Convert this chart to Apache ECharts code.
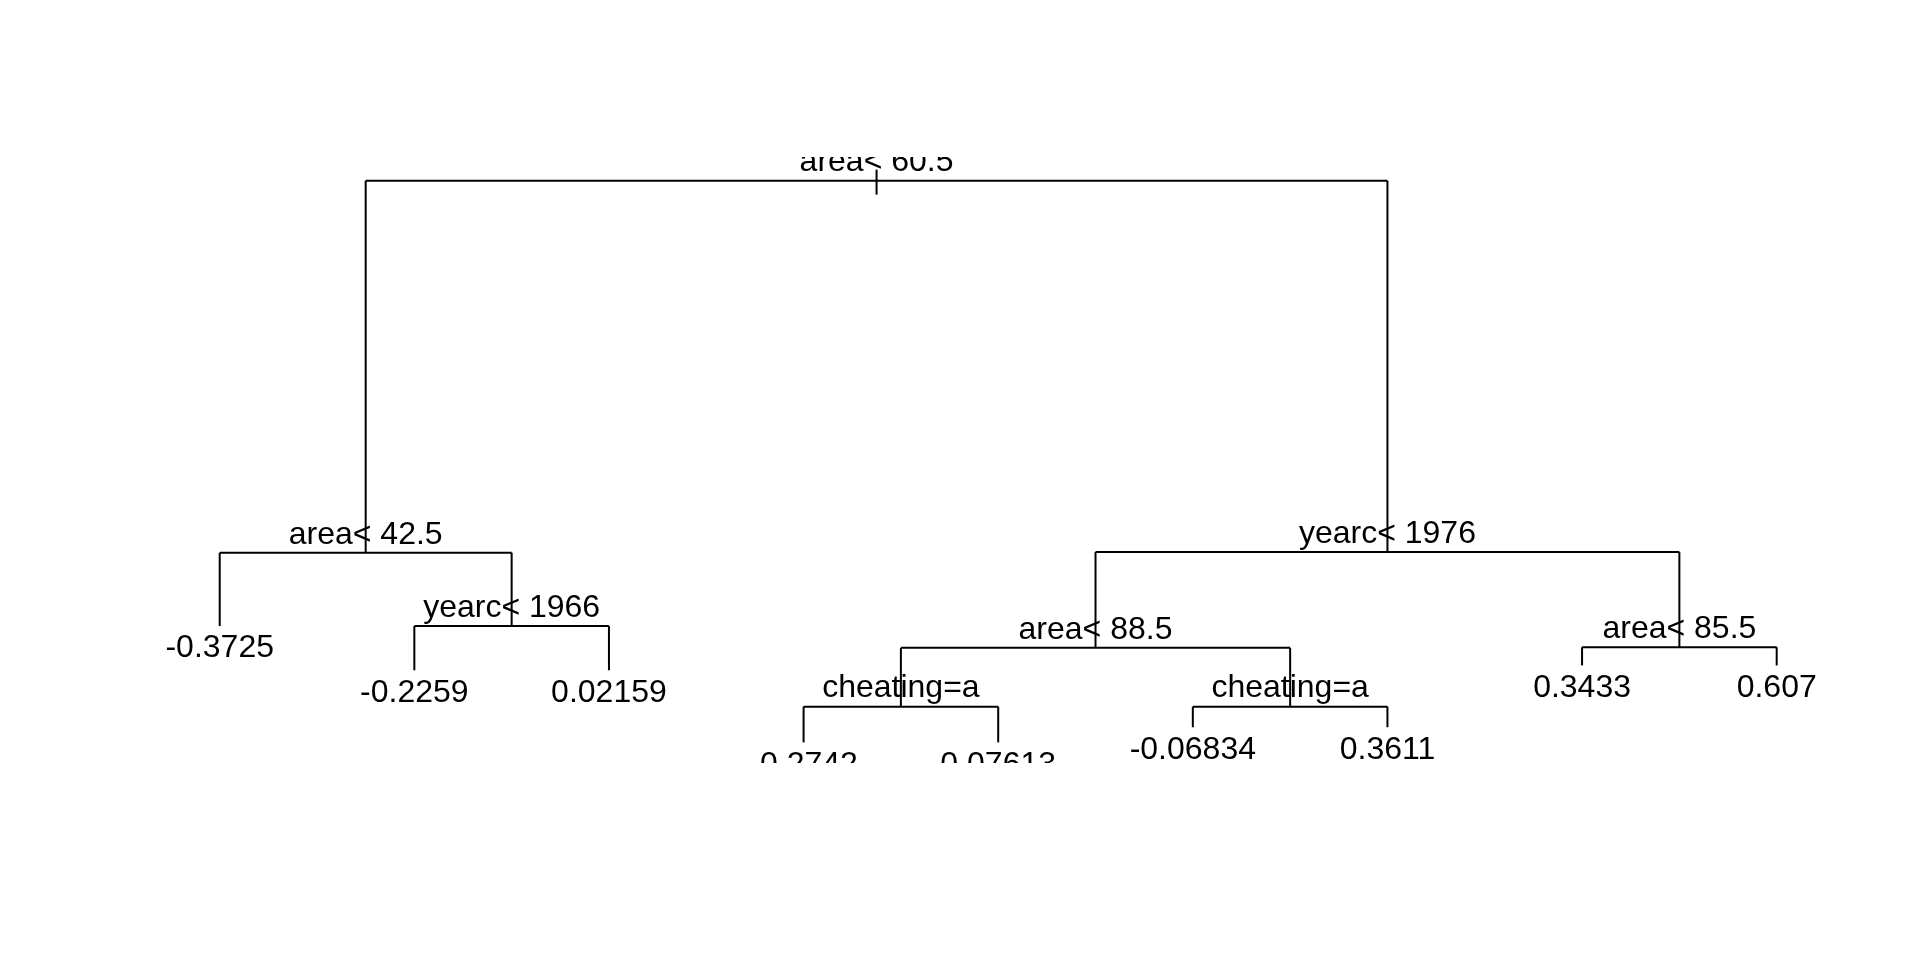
<!DOCTYPE html>
<html>
<head>
<meta charset="utf-8">
<style>
  html, body { margin: 0; padding: 0; background: #ffffff; }
  #chart { width: 1920px; height: 960px; }
</style>
<script src="https://cdn.jsdelivr.net/npm/echarts@6/dist/echarts.min.js"></script>
</head>
<body>
<div id="chart"></div>
<script>
// Regression tree (rpart) nodes, in pre-order
const nodeLabels = ['area< 60.5', 'area< 42.5', '-0.3725', 'yearc< 1966', '-0.2259', '0.02159',
  'yearc< 1976', 'area< 88.5', 'cheating=a', '-0.2742', '0.07613', 'cheating=a', '-0.06834', '0.3611',
  'area< 85.5', '0.3433', '0.607'];
const nodeParent = [-1, 0, 1, 1, 3, 3, 0, 6, 7, 8, 8, 7, 11, 11, 6, 14, 14];
// horizontal position (leaf order units)
const nodeX = [4.375, 1.75, 1, 2.5, 2, 3, 7, 5.5, 4.5, 4, 5, 6.5, 6, 7, 8.5, 8, 9];
// vertical position (relative deviance height)
const nodeY = [0.961, 0.347, 0.226, 0.226, 0.153, 0.153, 0.348, 0.190, 0.093, 0.034, 0.034, 0.093, 0.059, 0.059, 0.191, 0.161, 0.161];

const FONT = '"Liberation Sans", Arial, Helvetica, sans-serif';
const FONT_SIZE = 32;

// children lists derived from the parent array
const children = nodeLabels.map(() => []);
nodeParent.forEach((p, i) => { if (p >= 0) children[p].push(i); });

const data = nodeLabels.map((lab, i) => ({
  value: [nodeX[i], nodeY[i]],
  name: lab
}));

function renderItem(params, api) {
  const i = params.dataIndex;
  const pt = api.coord([nodeX[i], nodeY[i]]);
  const els = [];
  const lineStyle = { stroke: '#000', lineWidth: 2 };
  const p = nodeParent[i];
  if (p >= 0) {
    const top = api.coord([nodeX[i], nodeY[p]]);
    els.push({ type: 'line', shape: { x1: pt[0], y1: top[1], x2: pt[0], y2: pt[1] }, style: lineStyle });
  } else {
    els.push({ type: 'line', shape: { x1: pt[0], y1: pt[1] - 11, x2: pt[0], y2: pt[1] + 14 }, style: lineStyle });
  }
  const ch = children[i];
  if (ch.length) {
    const a = api.coord([nodeX[ch[0]], nodeY[i]]);
    const b = api.coord([nodeX[ch[ch.length - 1]], nodeY[i]]);
    els.push({ type: 'line', shape: { x1: a[0], y1: a[1], x2: b[0], y2: b[1] }, style: lineStyle });
    els.push({ type: 'text', z2: 10, style: {
      text: nodeLabels[i], x: pt[0], y: pt[1] - 2, align: 'center', verticalAlign: 'bottom',
      font: FONT_SIZE + 'px ' + FONT, fill: '#000' } });
  } else {
    els.push({ type: 'text', z2: 10, style: {
      text: nodeLabels[i], x: pt[0], y: pt[1] + 6.5, align: 'center', verticalAlign: 'top',
      font: FONT_SIZE + 'px ' + FONT, fill: '#000' } });
  }
  return { type: 'group', children: els };
}

const chart = echarts.init(document.getElementById('chart'), null, { renderer: 'canvas' });
chart.setOption({
  backgroundColor: '#ffffff',
  animation: false,
  grid: { left: 122.4, top: 157, width: 1751.6, height: 606 },
  xAxis: { type: 'value', min: 0.5, max: 9.5, show: false },
  yAxis: { type: 'value', min: 0, max: 1, show: false },
  series: [{
    type: 'custom',
    clip: true,
    renderItem: renderItem,
    encode: { x: 0, y: 1 },
    data: data
  }]
});
</script>
</body>
</html>
